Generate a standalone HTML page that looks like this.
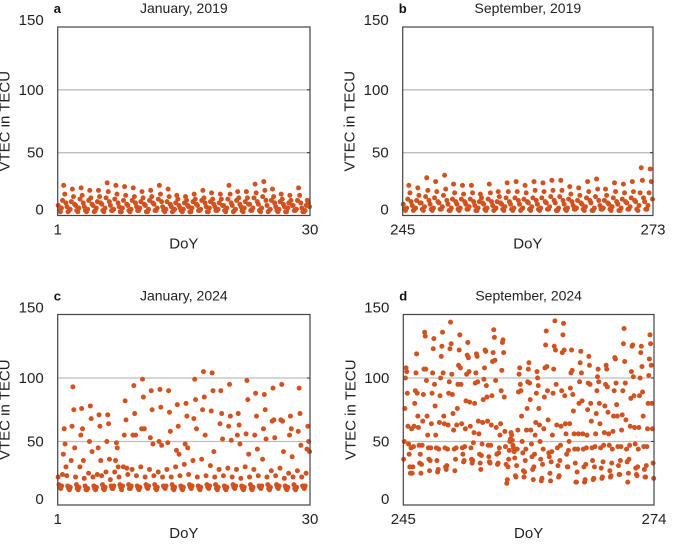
<!DOCTYPE html>
<html><head><meta charset="utf-8"><style>
html,body{margin:0;padding:0;background:#fff;}
svg{display:block;font-family:"Liberation Sans",Arial,sans-serif;}
</style></head><body>
<svg id="chart" width="685" height="547" viewBox="0 0 685 547"></svg>
<script>
const aValues = [
[8,4,3,6,12,24,17,10],[7,3,4,5,11,21,15,9],[8,4,3,6,13,22,16,10],[7,4,3,5,12,20,14,9],
[8,3,4,6,11,20,15,10],[9,4,3,6,14,26,19,11],[8,4,4,5,13,24,17,10],[7,3,3,6,12,23,16,9],
[8,4,3,5,12,22,15,10],[7,4,4,6,11,19,14,9],[8,3,3,5,12,20,15,10],[9,4,4,6,13,24,17,11],
[7,4,3,5,11,21,15,9],[7,3,4,5,10,16,13,8],[6,4,3,5,10,15,12,8],[7,3,3,6,11,17,13,9],
[8,4,4,5,12,20,14,10],[7,3,3,6,11,18,13,9],[7,4,4,5,10,17,13,8],[8,4,3,6,13,24,17,10],
[8,3,4,5,12,19,14,9],[7,4,3,6,11,19,14,9],[9,4,4,6,14,25,18,11],[9,4,3,6,15,27,20,12],
[8,3,4,5,12,21,15,10],[7,4,3,5,11,17,13,9],[7,3,3,6,10,16,12,8],[8,4,4,5,12,22,16,10],
[6,3,3,4,8,12,10,7]];
const bValues = [
[9,5,4,6,13,24,18,11],[8,4,5,6,12,22,16,10],[10,5,4,7,15,30,20,12],[9,5,4,6,14,27,19,11],
[10,5,5,7,16,32,21,12],[9,4,4,6,13,25,18,11],[9,5,4,6,13,24,17,11],[9,5,5,7,13,24,18,11],
[8,4,4,6,11,17,14,10],[9,5,4,6,13,25,18,11],[8,4,5,6,11,19,15,10],[9,5,4,7,14,26,19,11],
[9,5,4,6,14,27,19,12],[9,4,5,6,13,24,18,11],[10,5,4,7,14,27,20,12],[9,5,4,6,14,26,19,11],
[10,5,5,7,15,28,20,12],[10,4,4,6,15,28,20,12],[9,5,4,6,13,23,17,11],[8,5,5,6,12,22,16,10],
[9,5,4,7,14,27,19,12],[10,4,4,6,15,29,21,12],[8,5,5,6,12,21,16,10],[9,5,4,7,14,26,19,11],
[9,4,4,6,13,25,18,11],[10,5,5,7,14,27,19,12],[11,5,4,8,18,38,28,14],[11,5,5,8,18,37,27,13]];
const cValues = [
[22,16,14,13,15,24,40,60,48,30],[23,15,13,12,14,35,62,93,75,45],[22,16,13,12,14,30,55,76,60,35],
[21,15,12,12,13,25,50,78,68,42],[22,15,13,12,14,24,45,71,62,35],[23,16,13,12,14,26,50,71,64,36],
[20,15,13,13,15,26,35,49,45,30],[22,16,14,12,15,30,55,82,67,29],[24,16,13,13,15,28,55,94,72,55],
[23,15,13,12,14,30,60,99,85,60],[22,16,14,13,15,28,53,90,75,48],[23,16,13,12,14,26,50,91,77,47],
[22,15,14,13,15,28,49,90,73,58],[22,16,13,12,14,30,43,79,62,40],[23,15,13,12,14,32,48,80,70,45],
[24,16,14,13,15,35,68,99,83,60],[22,15,13,12,14,36,75,105,85,55],[23,16,14,13,15,31,74,104,90,42],
[22,16,13,12,14,28,64,90,72,52],[23,15,13,12,14,29,62,95,70,51],[22,16,14,13,15,28,55,72,63,48],
[21,15,13,12,14,30,56,98,83,40],[22,16,13,12,14,28,55,88,70,44],[23,15,14,13,15,36,60,87,75,52],
[22,16,13,12,14,27,66,92,67,53],[23,16,14,13,15,29,67,95,66,42],[21,15,13,12,14,25,55,70,60,38],
[22,16,13,12,14,27,58,92,72,47],[22,15,14,13,15,25,44,62,50,42]];
const dValues = [
[36,50,76,100,108,105,88,62,48,40,30,25,45,60],[25,30,46,62,80,90,104,119,88,70,61,47,33,40],
[25,32,47,66,87,107,136,133,107,98,70,55,45,36],[27,35,45,64,88,104,123,131,95,78,55,45,35,26],
[28,44,65,86,100,117,125,136,104,70,64,45,30,28],[31,44,63,88,97,123,144,127,103,87,72,59,44,27],
[36,45,63,76,95,110,122,134,108,95,64,45,40,34],[35,46,60,82,103,118,128,116,105,81,62,45,36,33],
[35,49,57,80,96,104,119,117,97,66,56,40,33,28],[39,48,65,83,99,108,122,121,94,85,66,47,38,34],
[33,47,63,86,113,120,138,132,114,98,61,40,32,33],[41,45,55,64,90,106,128,130,120,85,58,46,32,17],
[20,30,36,43,50,52,57,55,51,47,45,42,37,23],[22,31,44,59,89,103,108,95,90,70,50,41,27,22],
[26,35,44,59,76,97,107,112,96,83,59,48,38,28],[20,30,40,55,65,88,105,100,94,76,63,50,36,19],
[21,32,44,60,85,108,126,137,109,90,67,41,38,25],[19,34,42,55,88,107,125,145,122,95,63,45,31,22],
[23,35,47,62,90,120,134,143,122,86,64,56,40,30],[30,43,50,64,92,104,122,106,87,74,56,44,33,18],
[18,26,44,56,80,97,112,121,104,82,56,44,30,18],[20,32,45,55,75,96,117,110,95,80,66,45,35,20],
[21,30,46,56,72,90,101,107,97,80,64,45,29,21],[22,34,47,57,78,95,110,107,93,73,56,47,27,22],
[23,33,44,58,70,90,116,115,96,79,70,46,31,24],[24,35,46,59,71,90,127,139,113,96,67,44,34,18],
[25,36,47,62,84,105,125,126,101,86,61,48,29,24],[23,30,44,61,86,100,120,125,109,89,70,46,28,22],
[22,31,46,60,80,102,115,134,127,110,80,60,33,21]];
const yTicks = [0,50,100,150];
const xRangeA = [1,30], xRangeB = [245,273], xRangeC = [1,30], xRangeD = [245,274];
const titles = ["January, 2019","September, 2019","January, 2024","September, 2024"];
const letters = ["a","b","c","d"];

const NS="http://www.w3.org/2000/svg";
const svg=document.getElementById('chart');
function mk(tag,attrs,parent){const e=document.createElementNS(NS,tag);for(const k in attrs)e.setAttribute(k,attrs[k]);(parent||svg).appendChild(e);return e;}

function panel(idx,L,R,T,B,xr,values){
  const g=mk('g',{});
  
  
  const xs=v=>L+(v-xr[0])/(xr[1]-xr[0])*(R-L);
  const ys=v=>B-v/150*(B-T);
  yTicks.forEach(t=>{
    if(t>0&&t<150){const gl=mk('line',{x1:L,x2:R,y1:ys(t),y2:ys(t),stroke:'#bdbdbd','stroke-width':1.3},g);
      
      }
    const tk=mk('line',{x1:R-3,x2:R,y1:ys(t),y2:ys(t),stroke:'#333','stroke-width':1},g);
    
    
    const tl=mk('text',{x:L-14,y:ys(t)+(t==150?-2:(t==0?-1:5)),'text-anchor':'end','font-size':15,fill:'#222'},g);
    tl.textContent=t;
    
    
  });
  values.forEach((day,k)=>{
    day.forEach((v,i)=>{
      const c=mk('circle',{cx:xs(xr[0]+k+i/day.length+0.5/day.length),cy:ys(v),r:2.5,fill:'#d2521f'},g);
      
      
    });
  });
  const box=mk('rect',{x:L,y:T,width:R-L,height:B-T,fill:'none',stroke:'#444','stroke-width':1.2},g);
  
  
  [[xr[0],L],[xr[1],R]].forEach(([v,x])=>{
    const t=mk('text',{x:x,y:B+19,'text-anchor':'middle','font-size':15,fill:'#222'},g);
    t.textContent=v;
    
    
  });
  const xt=mk('text',{x:(L+R)/2,y:B+33,'text-anchor':'middle','font-size':15,fill:'#222'},g);
  xt.textContent='DoY';
  
  
  const cx=L-48, cy=(T+B)/2;
  const yt=mk('text',{x:cx,y:cy,'text-anchor':'middle','font-size':15,fill:'#222',transform:`rotate(-90 ${cx} ${cy})`},g);
  yt.textContent='VTEC in TECU';
  
  
  const tt=mk('text',{x:(L+R)/2,y:T-14,'text-anchor':'middle','font-size':14,fill:'#222'},g);
  tt.textContent=titles[idx];
  
  
  const lt=mk('text',{x:L-4,y:T-14,'font-size':13,'font-weight':'bold',fill:'#111'},g);
  lt.textContent=letters[idx];
  
  
}
panel(0,57.7,310,27,215.5,xRangeA,aValues);
panel(1,402.7,653,27,215.5,xRangeB,bValues);
panel(2,57.7,310,314.5,505,xRangeC,cValues);
panel(3,403.3,654,314.5,505,xRangeD,dValues);
</script>
</body></html>
